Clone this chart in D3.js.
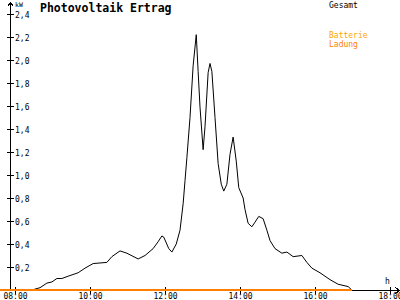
<!DOCTYPE html>
<html><head><meta charset="utf-8">
<script src="https://cdn.jsdelivr.net/npm/d3@7"></script>
<style>body{margin:0;background:#fff}svg{display:block}text{font-family:"DejaVu Sans Mono",monospace}</style>
</head><body><svg id="c" width="400" height="300"></svg>
<script>
const times = ["07:36","08:27","08:40","08:51","08:59","09:07","09:15","09:25","09:41","09:52","10:05","10:27","10:35","10:48","10:59","11:17","11:28","11:41","11:49","11:55","11:58","12:06","12:11","12:18","12:24","12:29","12:32","12:35","12:40","12:45","12:50","12:53","12:56","13:01","13:04","13:09","13:12","13:15","13:20","13:25","13:30","13:34","13:39","13:44","13:49","13:54","13:58","14:05","14:08","14:13","14:19","14:24","14:30","14:37","14:43","14:48","14:56","15:07","15:15","15:25","15:39","15:47","15:55","16:08","16:24","16:37","16:53","16:59"];
const gesamt = [0,0,0.02,0.06,0.07,0.10,0.10,0.12,0.15,0.19,0.23,0.24,0.29,0.34,0.32,0.27,0.30,0.36,0.42,0.47,0.46,0.36,0.33,0.40,0.52,0.75,0.95,1.15,1.50,1.95,2.22,1.90,1.59,1.22,1.42,1.89,1.97,1.90,1.50,1.10,0.92,0.86,0.92,1.18,1.33,1.12,0.89,0.80,0.70,0.58,0.55,0.59,0.64,0.62,0.52,0.43,0.36,0.32,0.33,0.29,0.30,0.24,0.19,0.15,0.09,0.05,0.03,0];
const ladungTimes = ["07:36","16:59"];
const ladung = [0,0];
const yTicks = [0.2,0.4,0.6,0.8,1.0,1.2,1.4,1.6,1.8,2.0,2.2,2.4];
const xTickLabels = ["08:00","10:00","12:00","14:00","16:00","18:00"];
const title = "Photovoltaik Ertrag";
const legend = ["Gesamt","Batterie","Ladung"];

const parse = d3.timeParse("%H:%M");
const svg = d3.select("#c");
const x = d3.scaleTime().domain([parse("08:00"), parse("18:00")]).range([15, 390]);
const y = d3.scaleLinear().domain([0, 2.4]).range([290, 14]);
const fmt = v => d3.format(".1f")(v).replace(".", ",");

// y axis
svg.append("line").attr("x1",10.5).attr("x2",10.5).attr("y1",290).attr("y2",2).attr("stroke","#000");
svg.append("path").attr("d","M7.5,6.5L10.5,2.5L13.5,6.5").attr("fill","none").attr("stroke","#000").attr("shape-rendering","crispEdges");
const yg = svg.append("g");
yTicks.forEach(t => {
  const yy = Math.round(y(t)) + 0.5;
  yg.append("line").attr("x1",7).attr("x2",14).attr("y1",yy).attr("y2",yy).attr("stroke","#000").attr("shape-rendering","crispEdges");
  yg.append("text").attr("x",15).attr("y",yy+3).attr("font-size",8).attr("fill","#000").text(fmt(t));
});
svg.append("text").attr("x",15).attr("y",7).attr("font-size",6.5).text("kW");

// x axis
svg.append("line").attr("x1",0).attr("x2",399).attr("y1",290.5).attr("y2",290.5).attr("stroke","#000").attr("shape-rendering","crispEdges");
svg.append("path").attr("d","M395.5,287.5L399.5,290.5L395.5,293.5").attr("fill","none").attr("stroke","#000").attr("shape-rendering","crispEdges");
xTickLabels.forEach(l => {
  const xx = Math.round(x(parse(l))) + 0.5;
  svg.append("line").attr("x1",xx).attr("x2",xx).attr("y1",287).attr("y2",294).attr("stroke","#000").attr("shape-rendering","crispEdges");
  svg.append("text").attr("x",xx).attr("y",299).attr("font-size",8).attr("text-anchor","middle").text(l);
});
svg.append("text").attr("x",385).attr("y",284).attr("font-size",8).text("h");

// series
const line = d3.line().x(d => x(parse(d[0]))).y(d => y(d[1]));
svg.append("path").datum(times.map((t,i)=>[t,gesamt[i]])).attr("d",line).attr("fill","none").attr("stroke","#000").attr("stroke-width",1);
svg.append("path").datum(ladungTimes.map((t,i)=>[t,ladung[i]])).attr("d",d3.line().x(d=>x(parse(d[0]))).y(d=>y(d[1]))).attr("fill","none").attr("stroke","#ff8000").attr("stroke-width",2).attr("shape-rendering","crispEdges");

// title & legend
svg.append("text").attr("x",40).attr("y",12).attr("font-size",11.5).attr("font-weight","bold").text(title);
svg.append("text").attr("x",329).attr("y",8).attr("font-size",8).attr("fill","#000").text(legend[0]);
svg.append("text").attr("x",329).attr("y",38).attr("font-size",8).attr("fill","#ffa500").text(legend[1]);
svg.append("text").attr("x",329).attr("y",47).attr("font-size",8).attr("fill","#ff8000").text(legend[2]);
</script></body></html>
